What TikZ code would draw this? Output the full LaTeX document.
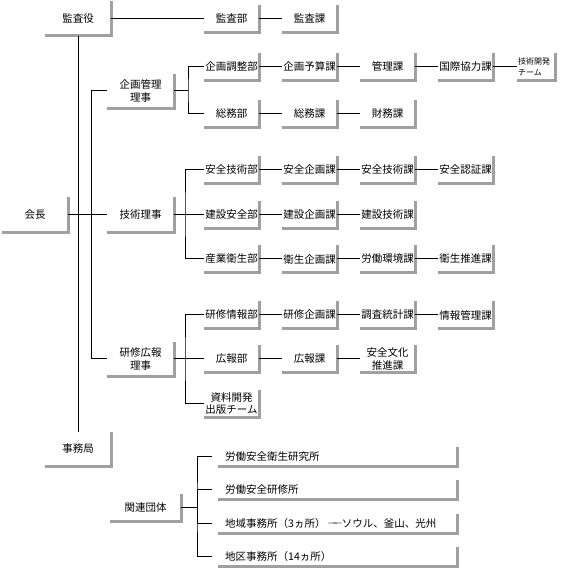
\documentclass[tikz,border=0pt]{standalone}
\usepackage{fontspec}
\setmainfont{Noto Sans CJK JP}
\definecolor{shadegray}{RGB}{160,160,160}
\begin{document}
\begin{tikzpicture}[x=1pt,y=-1pt,
  base/.style={rectangle, inner sep=0pt, align=center, font=\fontsize{10.5}{13}\selectfont},
  sb/.style={base, minimum width=55, minimum height=27},
  bb/.style={base, minimum width=66, minimum height=34},
  wide/.style={base, anchor=west, minimum height=19, text width=245pt, align=left},
  gr/.style={draw=shadegray, line width=3pt},
  ln/.style={draw=black, line width=1pt}]
\useasboundingbox (0,0) rectangle (571,569);

% major boxes
\node[bb] (kansayaku) at (78,18.5) {監査役};
\node[bb, minimum height=35] (kaicho) at (35,215) {会長};
\node[bb] (jimukyoku) at (78,449) {事務局};
\node[bb, minimum width=67] (kikaku) at (140.5,91) {企画管理\\理事};
\node[bb, minimum width=67, minimum height=35] (gijutsu) at (140.5,215) {技術理事};
\node[bb, minimum width=67] (kenshu) at (140.5,359) {研修広報\\理事};
\node[bb, minimum width=71, minimum height=27] (kanren) at (145.5,507.5) {関連団体};

% audit
\node[sb] (kansabu) at (231.5,18.5) {監査部};
\node[sb] (kansaka) at (309.5,18.5) {監査課};

% planning
\node[sb] (kikakuchosei) at (231.5,66.5) {企画調整部};
\node[sb] (yosan) at (309.5,66.5) {企画予算課};
\node[sb] (kanri) at (387.5,66.5) {管理課};
\node[sb] (kokusai) at (465.5,66.5) {国際協力課};
\node[base, minimum width=38, minimum height=27, text width=36pt, align=left,
      font=\fontsize{8}{11}\selectfont] (gikai) at (536,66.5) {技術開発\\チーム};
\node[sb] (somubu) at (231.5,114) {総務部};
\node[sb] (somuka) at (309.5,114) {総務課};
\node[sb] (zaimu) at (387.5,114) {財務課};

% technical
\node[sb] (anzengb) at (231.5,170) {安全技術部};
\node[sb] (anzenkk) at (309.5,170) {安全企画課};
\node[sb] (anzengk) at (387.5,170) {安全技術課};
\node[sb] (ninsho) at (465.5,170) {安全認証課};
\node[sb] (kensetsubu) at (231.5,215) {建設安全部};
\node[sb] (kensetsukk) at (309.5,215) {建設企画課};
\node[sb] (kensetsugk) at (387.5,215) {建設技術課};
\node[sb] (sangyo) at (231.5,259) {産業衛生部};
\node[sb] (eiseikk) at (309.5,259) {衛生企画課};
\node[sb] (rodo) at (387.5,259) {労働環境課};
\node[sb] (eiseisui) at (465.5,259) {衛生推進課};

% training
\node[sb] (kenshujoho) at (231.5,315) {研修情報部};
\node[sb] (kenshukk) at (309.5,315) {研修企画課};
\node[sb] (chosa) at (387.5,315) {調査統計課};
\node[sb] (johokanri) at (465.5,315) {情報管理課};
\node[sb] (kohobu) at (231.5,359) {広報部};
\node[sb] (kohoka) at (309.5,359) {広報課};
\node[sb, font=\fontsize{10.5}{12.5}\selectfont] (bunka) at (387.5,359) {安全文化\\推進課};
\node[sb, font=\fontsize{10.5}{11.5}\selectfont] (shiryo) at (231.5,403.5) {資料開発\\出版チーム};

% related bodies
\node[wide] (w1) at (212,456.5) {\hspace*{13pt}労働安全衛生研究所};
\node[wide] (w2) at (212,490) {\hspace*{13pt}労働安全研修所};
\node[wide] (w3) at (212,524) {\hspace*{13pt}地域事務所（3ヵ所）\hspace{0.2em}―\kern-0.55em―\kern-0.1emソウル、釜山、光州};
\node[wide] (w4) at (212,557) {\hspace*{13pt}地区事務所（14ヵ所）};

% gray L frames
\foreach \n in {kansayaku,kaicho,jimukyoku,kikaku,gijutsu,kenshu,kanren,
  kansabu,kansaka,kikakuchosei,yosan,kanri,kokusai,gikai,somubu,somuka,zaimu,
  anzengb,anzenkk,anzengk,ninsho,kensetsubu,kensetsukk,kensetsugk,
  sangyo,eiseikk,rodo,eiseisui,kenshujoho,kenshukk,chosa,johokanri,
  kohobu,kohoka,bunka,shiryo}
  \draw[gr] (\n.south west) -| (\n.north east);
\foreach \n in {w1,w2,w3,w4}
  \draw[gr] ([xshift=6pt]\n.south west) -| (\n.north east);

% branch points
\coordinate (b1) at (188,91);
\coordinate (b2) at (185,215);
\coordinate (b3) at (185,359);
\coordinate (b4) at (197,507.5);
\coordinate (t0) at (91,91);

% connectors
\draw[ln] (kansayaku.south) -- (jimukyoku.north);
\draw[ln] (kansayaku.east) -- (kansabu.west);
\draw[ln] (kansabu.east) -- (kansaka.west);
\draw[ln] (kaicho.east) -- (gijutsu.west);
\draw[ln] (kikaku.west) -- (t0) |- (kenshu.west);

\draw[ln] (kikaku.east) -- (b1);
\draw[ln] (kikakuchosei.west) -| (b1) |- (somubu.west);
\draw[ln] (kikakuchosei.east) -- (yosan.west);
\draw[ln] (yosan.east) -- (kanri.west);
\draw[ln] (kanri.east) -- (kokusai.west);
\draw[ln] (kokusai.east) -- (gikai.west);
\draw[ln] (somubu.east) -- (somuka.west);
\draw[ln] (somuka.east) -- (zaimu.west);

\draw[ln] (gijutsu.east) -- (kensetsubu.west);
\draw[ln] (anzengb.west) -| (b2) |- (sangyo.west);
\draw[ln] (anzengb.east) -- (anzenkk.west);
\draw[ln] (anzenkk.east) -- (anzengk.west);
\draw[ln] (anzengk.east) -- (ninsho.west);
\draw[ln] (kensetsubu.east) -- (kensetsukk.west);
\draw[ln] (kensetsukk.east) -- (kensetsugk.west);
\draw[ln] (sangyo.east) -- (eiseikk.west);
\draw[ln] (eiseikk.east) -- (rodo.west);
\draw[ln] (rodo.east) -- (eiseisui.west);

\draw[ln] (kenshu.east) -- (kohobu.west);
\draw[ln] (kenshujoho.west) -| (b3) |- (shiryo.west);
\draw[ln] (kenshujoho.east) -- (kenshukk.west);
\draw[ln] (kenshukk.east) -- (chosa.west);
\draw[ln] (chosa.east) -- (johokanri.west);
\draw[ln] (kohobu.east) -- (kohoka.west);
\draw[ln] (kohoka.east) -- (bunka.west);

\draw[ln] (kanren.east) -- (b4);
\draw[ln] (w1.west) -| (b4) |- (w4.west);
\draw[ln] (w2.west) -| (b4);
\draw[ln] (w3.west) -| (b4);
\end{tikzpicture}
\end{document}
